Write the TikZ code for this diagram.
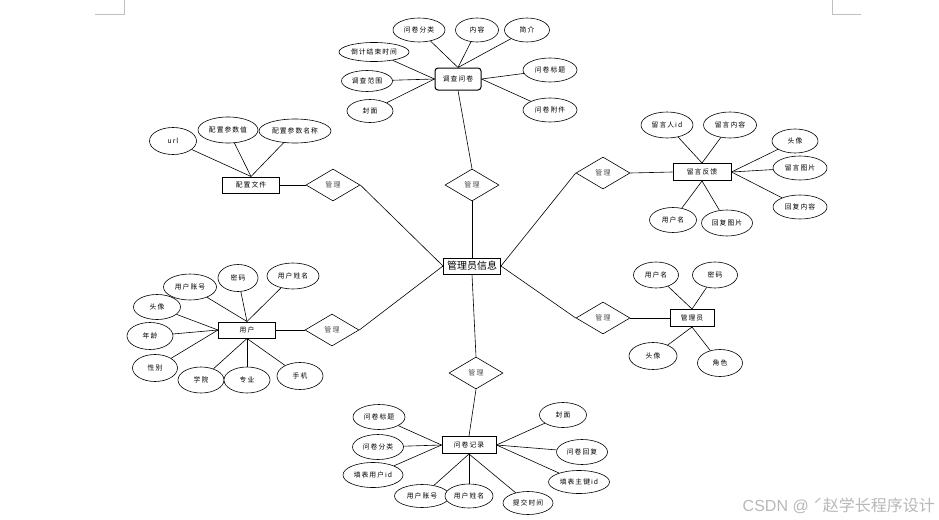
\documentclass[tikz,border=0pt]{standalone}
\usepackage{fontspec}
\newfontfamily\cjk{Noto Sans CJK SC}
\newfontfamily\cjks[LetterSpace=15]{Noto Sans CJK SC}
\newfontfamily\wmlat{Liberation Sans}
\usetikzlibrary{shapes.geometric}
\begin{document}
\begin{tikzpicture}[x=1pt,y=-1pt,
 attr/.style={ellipse,draw,fill=white,inner sep=0pt,line width=0.6pt,font=\cjks\fontsize{6.8}{7}\selectfont},
 ent/.style={rectangle,draw,fill=white,inner sep=0pt,line width=1pt,font=\cjks\fontsize{6.8}{7}\selectfont},
 rel/.style={diamond,draw,fill=white,inner sep=0pt,line width=0.6pt,minimum width=54pt,minimum height=32pt,text=black!70,font=\cjks\fontsize{7}{8}\selectfont},
 conn/.style={line width=0.6pt},
 cornermark/.style={draw=black!25,line width=0.5pt}]
\useasboundingbox[fill=white] (0,0) rectangle (939,519);
% page corner marks
\coordinate (m1) at (124,0); \coordinate (m2) at (124,14); \coordinate (m3) at (95,14);
\coordinate (m4) at (832,0); \coordinate (m5) at (832,14); \coordinate (m6) at (861,14);
\draw[cornermark] (m1) -- (m2) -- (m3);
\draw[cornermark] (m4) -- (m5) -- (m6);

% central entity
\node[ent,minimum width=57pt,minimum height=16pt,font=\cjk\fontsize{10}{11}\selectfont] (c) at (472,266) {管理员信息};

% relationships
\node[rel] (rt) at (472,185) {管理};
\node[rel] (rlu) at (333,185) {管理};
\node[rel] (rru) at (603,173) {管理};
\node[rel] (rll) at (332,330) {管理};
\node[rel] (rrl) at (603,318) {管理};
\node[rel] (rb) at (476,373) {管理};

% entities
\node[ent,rounded corners=3pt,minimum width=46pt,minimum height=22pt] (e1) at (458,79) {调查问卷};
\node[ent,minimum width=57pt,minimum height=16pt] (e2) at (251,185) {配置文件};
\node[ent,minimum width=58pt,minimum height=17pt] (e3) at (702,172) {留言反馈};
\node[ent,minimum width=57pt,minimum height=16pt] (e4) at (247,330) {用户};
\node[ent,minimum width=44pt,minimum height=17pt] (e5) at (692,318) {管理员};
\node[ent,minimum width=54pt,minimum height=17pt] (e6) at (469,445) {问卷记录};

% central connections
\draw[conn] (c.north) -- (rt.south);
\draw[conn] (rt.north) -- (e1.south);
\draw[conn] (rlu.east) -- (c.west);
\draw[conn] (rll.east) -- (c.west);
\draw[conn] (rru.west) -- (c.east);
\draw[conn] (rrl.west) -- (c.east);
\draw[conn] (rb.north) -- (c.south);
\draw[conn] (e2.east) -- (rlu.west);
\draw[conn] (e3.west) -- (rru.east);
\draw[conn] (e4.east) -- (rll.west);
\draw[conn] (e5.west) -- (rrl.east);
\draw[conn] (e6.north) -- (rb.south);

% 调查问卷 attributes
\node[attr,minimum width=52pt,minimum height=24pt] (a11) at (419,30) {问卷分类};
\node[attr,minimum width=43pt,minimum height=24pt] (a12) at (477,30) {内容};
\node[attr,minimum width=45pt,minimum height=24pt] (a13) at (527,30) {简介};
\node[attr,minimum width=70pt,minimum height=19pt] (a14) at (374,52) {倒计结束时间};
\node[attr,minimum width=51pt,minimum height=21pt] (a15) at (367,81) {调查范围};
\node[attr,minimum width=46pt,minimum height=23pt] (a16) at (370,111) {封面};
\node[attr,minimum width=54pt,minimum height=24pt] (a17) at (550,70) {问卷标题};
\node[attr,minimum width=54pt,minimum height=24pt] (a18) at (550,110) {问卷附件};
\foreach \a in {a11,a12,a13} \draw[conn] (\a) -- (e1.north);
\foreach \a in {a14,a15,a16} \draw[conn] (\a) -- (e1.west);
\foreach \a in {a17,a18} \draw[conn] (\a) -- (e1.east);

% 配置文件 attributes
\node[attr,minimum width=47pt,minimum height=27pt] (a21) at (173,141) {url};
\node[attr,minimum width=60pt,minimum height=26pt] (a22) at (228,130) {配置参数值};
\node[attr,minimum width=72pt,minimum height=24pt] (a23) at (295,131) {配置参数名称};
\foreach \a in {a21,a22,a23} \draw[conn] (\a) -- (e2.north);

% 留言反馈 attributes
\node[attr,minimum width=52pt,minimum height=26pt] (a31) at (667,125) {留言人id};
\node[attr,minimum width=53pt,minimum height=26pt] (a32) at (730,125) {留言内容};
\node[attr,minimum width=46pt,minimum height=24pt] (a33) at (795,141) {头像};
\node[attr,minimum width=54pt,minimum height=24pt] (a34) at (800,168) {留言图片};
\node[attr,minimum width=54pt,minimum height=24pt] (a35) at (800,207) {回复内容};
\node[attr,minimum width=47pt,minimum height=25pt] (a36) at (673,220) {用户名};
\node[attr,minimum width=51pt,minimum height=26pt] (a37) at (727,223) {回复图片};
\foreach \a in {a31,a32} \draw[conn] (\a) -- (e3.north);
\foreach \a in {a33,a34,a35} \draw[conn] (\a) -- (e3.east);
\foreach \a in {a36,a37} \draw[conn] (\a) -- (e3.south);

% 用户 attributes
\node[attr,minimum width=53pt,minimum height=26pt] (a41) at (190,287) {用户账号};
\node[attr,minimum width=40pt,minimum height=27pt] (a42) at (238,278) {密码};
\node[attr,minimum width=52pt,minimum height=26pt] (a43) at (293,276) {用户姓名};
\node[attr,minimum width=47pt,minimum height=25pt] (a44) at (157,307) {头像};
\node[attr,minimum width=46pt,minimum height=27pt] (a45) at (150,336) {年龄};
\node[attr,minimum width=45pt,minimum height=27pt] (a46) at (155,368) {性别};
\node[attr,minimum width=46pt,minimum height=26pt] (a47) at (201,380) {学院};
\node[attr,minimum width=46pt,minimum height=26pt] (a48) at (247,380) {专业};
\node[attr,minimum width=46pt,minimum height=27pt] (a49) at (300,376) {手机};
\foreach \a in {a41,a42,a43} \draw[conn] (\a) -- (e4.north);
\foreach \a in {a44,a45,a46} \draw[conn] (\a) -- (e4.west);
\foreach \a in {a47,a48,a49} \draw[conn] (\a) -- (e4.south);

% 管理员 attributes
\node[attr,minimum width=45pt,minimum height=26pt] (a51) at (656,275) {用户名};
\node[attr,minimum width=45pt,minimum height=26pt] (a52) at (715,275) {密码};
\node[attr,minimum width=48pt,minimum height=27pt] (a53) at (653,356) {头像};
\node[attr,minimum width=45pt,minimum height=27pt] (a54) at (720,363) {角色};
\foreach \a in {a51,a52} \draw[conn] (\a) -- (e5.north);
\foreach \a in {a53,a54} \draw[conn] (\a) -- (e5.south);

% 问卷记录 attributes
\node[attr,minimum width=52pt,minimum height=25pt] (a61) at (379,417) {问卷标题};
\node[attr,minimum width=51pt,minimum height=25pt] (a62) at (378,447) {问卷分类};
\node[attr,minimum width=60pt,minimum height=25pt] (a63) at (373,475) {填表用户id};
\node[attr,minimum width=55pt,minimum height=23pt] (a64) at (422,496) {用户账号};
\node[attr,minimum width=48pt,minimum height=24pt] (a65) at (469,496) {用户姓名};
\node[attr,minimum width=50pt,minimum height=23pt] (a66) at (528,503) {提交时间};
\node[attr,minimum width=47pt,minimum height=25pt] (a67) at (563,415) {封面};
\node[attr,minimum width=51pt,minimum height=25pt] (a68) at (582,452) {问卷回复};
\node[attr,minimum width=61pt,minimum height=23pt] (a69) at (579,482) {填表主键id};
\foreach \a in {a61,a62,a63} \draw[conn] (\a) -- (e6.west);
\foreach \a in {a64,a65,a66} \draw[conn] (\a) -- (e6.south);
\foreach \a in {a67,a68,a69} \draw[conn] (\a) -- (e6.east);

% watermark
\node[anchor=east,inner sep=0pt,text=black!28,font=\fontsize{16}{18}\selectfont] (wm) at (935,506) {{\wmlat CSDN @ }{\cjk ˊ赵学长程序设计}};
\end{tikzpicture}
\end{document}
